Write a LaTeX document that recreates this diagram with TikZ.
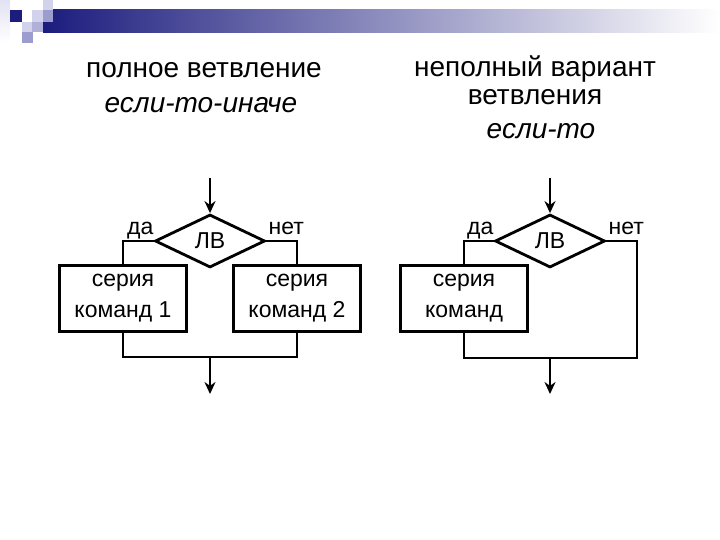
\documentclass[tikz,border=0pt]{standalone}
\usepackage{fontspec}
\setmainfont{Liberation Sans}
\usetikzlibrary{positioning, shapes.geometric, arrows.meta}
\definecolor{navy}{HTML}{1C1C7E}
\definecolor{barmid}{HTML}{9A9AB6}
\definecolor{lavlight}{HTML}{D2D2EC}
\definecolor{lavmid}{HTML}{9C9CCE}
\definecolor{lavpale}{HTML}{E2E2F2}

\begin{document}
\begin{tikzpicture}[
    x=1pt, y=-1pt,
    cond/.style={
        diamond,
        draw,
        line width=2.8pt,
        minimum width=110pt,
        minimum height=53pt,
        inner sep=0pt,
        font=\fontsize{23}{26}\selectfont,
    },
    cmd/.style={
        rectangle,
        draw,
        line width=2.2pt,
        minimum width=127pt,
        minimum height=66pt,
        inner sep=0pt,
        align=center,
        font=\fontsize{23}{31}\selectfont,
    },
    flow/.style={line width=2.2pt},
    into/.style={flow, -{Stealth[length=12pt, width=11pt]}},
    lbl/.style={inner sep=0pt, font=\fontsize{23}{26}\selectfont},
    ttl/.style={anchor=base, align=center, font=\fontsize{28}{28}\selectfont},
    ttlit/.style={ttl, font=\fontsize{28}{28}\selectfont\itshape}
]
\useasboundingbox (0,0) rectangle (720,540);

% header
\shade[left color=navy, middle color=barmid, right color=white] (43,10) rectangle (720,33);
\shade[top color=lavpale, bottom color=white] (0,0) rectangle (10,42);
\fill[navy] (10,10) rectangle (22,22);
\fill[lavlight] (32,10) rectangle (43,22);
\fill[lavlight] (43,0) rectangle (53,10);
\fill[lavmid] (43,10) rectangle (53,22);
\fill[lavlight] (22,22) rectangle (32,32);
\fill[lavmid!80!white] (32,22) rectangle (43,32);
\fill[lavmid] (22,32) rectangle (33,43);

\node[ttl] (t1) at (204,78) {полное ветвление};
\node[ttlit] (t1i) at (201,113) {если-то-иначе};
\node[ttl] (t2) at (535,105) {неполный вариант\\ветвления};
\node[ttlit] (t2i) at (541,139) {если-то};

% full branching
\node[cond] (dl) at (210,241) {ЛВ};
\node[cmd] (s1) at (123,298.5) {серия\\команд 1};
\node[cmd] (s2) at (297,298.5) {серия\\команд 2};
\coordinate (inl) at (210,178);
\coordinate (jl) at (210,357);
\coordinate (outl) at (210,394);
\node[lbl, anchor=base east] (yl) at ([yshift=6pt]dl.west) {да};
\node[lbl, anchor=base west] (nl) at ([xshift=2pt, yshift=6pt]dl.east) {нет};

% partial branching
\node[cond] (dr) at (550,241) {ЛВ};
\node[cmd] (s3) at (464,298.5) {серия\\команд};
\coordinate (inr) at (550,178);
\coordinate (cr) at (637,358);
\coordinate (jr) at (550,358);
\coordinate (outr) at (550,394);
\node[lbl, anchor=base east] (yr) at ([yshift=6pt]dr.west) {да};
\node[lbl, anchor=base west] (nr) at ([xshift=2pt, yshift=6pt]dr.east) {нет};

\draw[into] (inl) -- (dl);
\draw[flow] (dl.west) -| (s1.north);
\draw[flow] (dl.east) -| (s2.north);
\draw[flow] (s1.south) |- (jl) -| (s2.south);
\draw[into] (jl) -- (outl);

\draw[into] (inr) -- (dr);
\draw[flow] (dr.west) -| (s3.north);
\draw[flow] (dr.east) -| (cr) -- (jr);
\draw[flow] (s3.south) |- (jr);
\draw[into] (jr) -- (outr);
\end{tikzpicture}
\end{document}
